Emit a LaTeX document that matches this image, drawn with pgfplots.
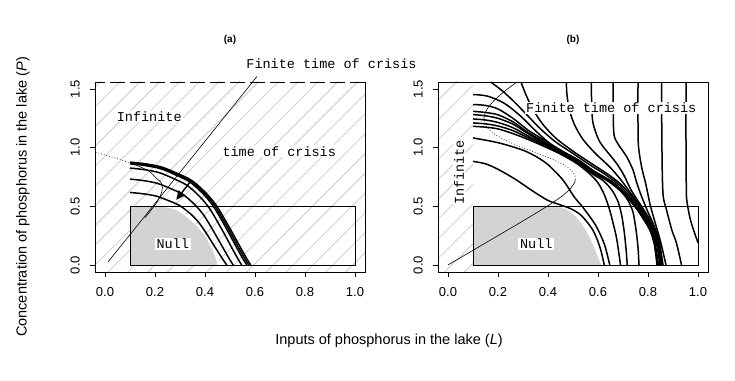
\documentclass[border=0pt]{standalone}
\usepackage{fontspec}
\setmainfont{Liberation Sans}
\newfontfamily\monof{Liberation Mono}
\usepackage{pgfplots}
\pgfplotsset{compat=1.18}
\usetikzlibrary{patterns.meta,arrows.meta}
\definecolor{nullgray}{RGB}{211,211,211}
\definecolor{hatchc}{RGB}{192,192,192}
\pgfplotsset{
  lakeax/.style={
    width=270pt,height=190pt,scale only axis,
    xmin=-0.04,xmax=1.04,ymin=-0.06,ymax=1.56,
    xtick={0,0.2,0.4,0.6,0.8,1}, ytick={0,0.5,1,1.5},
    xtick pos=left, ytick pos=left,
    tick align=outside, major tick length=5pt,
    tick style={black,line width=0.6pt},
    axis line style={line width=0.8pt},
    axis on top,
    /pgf/number format/assume math mode=true,
    /pgf/number format/fixed,
    /pgf/number format/fixed zerofill,
    /pgf/number format/precision=1,
    ticklabel style={font=\fontsize{13}{13}\selectfont},
    yticklabel style={rotate=90,anchor=south},
    xticklabel shift=6pt, yticklabel shift=6pt,
  },
  crv/.style={black,line width=1.5pt,smooth,forget plot},
  thinl/.style={black,line width=0.6pt,forget plot},
}
\begin{document}
\fontsize{12}{14}\selectfont
\begin{tikzpicture}
\path[use as bounding box] (0,0) rectangle (735pt,380pt);
% ---------------- panel (a)
\begin{axis}[lakeax, name=pa, at={(95pt,108pt)}, anchor=south west, clip=false]
\addplot[draw=none, pattern={Lines[angle=45,distance=14pt,line width=0.6pt]}, pattern color=hatchc, forget plot]
  coordinates {(-0.04,-0.06) (1.04,-0.06) (1.04,1.56) (-0.04,1.56)} -- cycle;
\addplot[fill=nullgray, draw=none, forget plot] coordinates {
 (0.1,0) (0.1,0.5) (0.22,0.5) (0.26,0.49) (0.30,0.455) (0.34,0.39) (0.37,0.33) (0.40,0.255) (0.42,0.18) (0.44,0.09) (0.453,0)} -- cycle;
\addplot[white,line width=1pt,smooth,forget plot] coordinates {
 (0.22,0.5) (0.26,0.49) (0.30,0.455) (0.34,0.39) (0.37,0.33) (0.40,0.255) (0.42,0.18) (0.44,0.09) (0.453,0)};
% equilibrium curve
\addplot[thinl,smooth] coordinates {(0.1593,0.4) (0.1961,0.5) (0.2117,0.55) (0.2235,0.6) (0.2291,0.65) (0.2255,0.7) (0.1999,0.75) (0.1763,0.8) (0.1258,0.85)};
\addplot[thinl,smooth,dash pattern=on 0.8pt off 2pt] coordinates {(0.1258,0.85) (0.059,0.9) (-0.0188,0.95) (-0.04,0.963)};
% pointer line
\addplot[thinl] coordinates {(0.013,0.028) (0.608,1.607)};
% isochrones
\addplot[crv] coordinates {(0.1,0.618) (0.148,0.608) (0.203,0.588) (0.256,0.547) (0.299,0.506) (0.342,0.436) (0.374,0.365) (0.401,0.284) (0.428,0.193) (0.455,0.102) (0.477,0.030) (0.487,0)};
\addplot[crv] coordinates {(0.1,0.732) (0.1516,0.720) (0.2094,0.696) (0.266,0.648) (0.3127,0.600) (0.3581,0.516) (0.3924,0.432) (0.4209,0.336) (0.4502,0.228) (0.4787,0.121) (0.5018,0.036) (0.513,0)};
\addplot[crv] coordinates {(0.1,0.826) (0.1559,0.813) (0.2185,0.786) (0.2797,0.731) (0.3302,0.676) (0.3794,0.582) (0.4165,0.487) (0.4473,0.379) (0.4791,0.258) (0.5099,0.136) (0.5349,0.040) (0.547,0)};
\addplot[crv] coordinates {(0.1,0.862) (0.1584,0.848) (0.2238,0.820) (0.2877,0.763) (0.3405,0.706) (0.3919,0.608) (0.4306,0.509) (0.4629,0.396) (0.496,0.269) (0.5282,0.142) (0.5544,0.042) (0.567,0)};
\addplot[crv] coordinates {(0.1,0.869) (0.1594,0.855) (0.2259,0.826) (0.291,0.769) (0.3446,0.712) (0.3969,0.613) (0.4363,0.513) (0.4691,0.399) (0.5028,0.271) (0.5356,0.143) (0.5622,0.043) (0.575,0)};
\addplot[crv] coordinates {(0.1,0.877) (0.1604,0.863) (0.228,0.834) (0.2942,0.776) (0.3487,0.718) (0.4019,0.618) (0.442,0.517) (0.4753,0.403) (0.5096,0.274) (0.5429,0.145) (0.57,0.043) (0.583,0)};
% arrow
\addplot[black,line width=1.4pt,-{Triangle[length=9pt,width=8pt]},forget plot] coordinates {(0.345,0.72) (0.285,0.555)};
% rectangle
\addplot[black,line width=0.8pt,forget plot] coordinates {(0.1,0) (1,0) (1,0.5) (0.1,0.5)} -- cycle;
\node[fill=white,inner xsep=2pt,inner ysep=1pt,font=\monof\fontsize{13.5}{13.5}\selectfont] at (axis cs:0.271,0.18) {Null};
\node[fill=white,inner sep=1pt,font=\monof\fontsize{13.5}{13.5}\selectfont] at (axis cs:0.177,1.268) {Infinite};
\node[fill=white,inner sep=1pt,font=\monof\fontsize{13.5}{13.5}\selectfont] at (axis cs:0.697,0.968) {time of crisis};
\node[font=\monof\fontsize{13.5}{13.5}\selectfont] at (axis cs:0.906,1.72) {Finite time of crisis};
\end{axis}
\draw[white,line width=1.4pt,dash pattern=on 5pt off 15pt,dash phase=-10pt] (pa.north west) -- (pa.north east);
% ---------------- panel (b)
\begin{axis}[lakeax, name=pb, at={(438pt,108pt)}, anchor=south west]
\addplot[draw=none, pattern={Lines[angle=45,distance=14pt,line width=0.6pt]}, pattern color=hatchc, forget plot]
  coordinates {(-0.04,-0.06) (0.1,-0.06) (0.1,1.56) (-0.04,1.56)} -- cycle;
\addplot[fill=nullgray, draw=none, forget plot] coordinates {
 (0.1,0) (0.1,0.5) (0.43,0.5) (0.46,0.49) (0.49,0.46) (0.513,0.413) (0.535,0.36) (0.553,0.299) (0.57,0.23) (0.586,0.156) (0.60,0.08) (0.615,0)} -- cycle;
\addplot[white,line width=1pt,smooth,forget plot] coordinates {
 (0.43,0.5) (0.46,0.49) (0.49,0.46) (0.513,0.413) (0.535,0.36) (0.553,0.299) (0.57,0.23) (0.586,0.156) (0.60,0.08) (0.615,0)};
% equilibrium curve
\addplot[thinl,smooth] coordinates {(0,0) (0.08,0.1) (0.16,0.2) (0.24,0.3) (0.3193,0.4) (0.3961,0.5) (0.4317,0.55) (0.4635,0.6) (0.4891,0.65) (0.5055,0.7) (0.5093,0.73)};
\addplot[thinl,smooth,dash pattern=on 0.8pt off 2pt] coordinates {(0.5093,0.73) (0.5079,0.76) (0.4963,0.8) (0.4658,0.85) (0.419,0.9) (0.3612,0.95) (0.3,1.0) (0.2436,1.05) (0.1981,1.1) (0.1664,1.15) (0.1487,1.2) (0.1437,1.25)};
\addplot[thinl,smooth] coordinates {(0.1437,1.25) (0.1492,1.3) (0.1631,1.35) (0.1835,1.4) (0.2087,1.45) (0.2376,1.5) (0.2758,1.56)};
% curves from the left edge
\addplot[crv] coordinates {(0.1,0.883) (0.151,0.862) (0.205,0.81) (0.272,0.727) (0.339,0.63) (0.40,0.55) (0.446,0.515) (0.49,0.48) (0.526,0.435) (0.555,0.37) (0.58,0.295) (0.598,0.21) (0.612,0.12) (0.625,0)};
\addplot[crv] coordinates {(0.1,1.083) (0.205,1.04) (0.312,0.968) (0.392,0.869) (0.459,0.726) (0.505,0.58) (0.54,0.49) (0.59,0.34) (0.625,0.18) (0.647,0)};
\addplot[crv] coordinates {(0.1,1.182) (0.15,1.175) (0.2,1.16) (0.26,1.12) (0.32,1.07) (0.38,1.015) (0.45,0.945) (0.515,0.865) (0.565,0.78) (0.60,0.70) (0.625,0.60) (0.645,0.48) (0.66,0.36) (0.675,0.22) (0.69,0)};
\addplot[crv] coordinates {(0.1,1.211) (0.15,1.203) (0.2,1.185) (0.26,1.145) (0.32,1.085) (0.38,1.025) (0.45,0.95) (0.52,0.87) (0.575,0.78) (0.62,0.72) (0.655,0.64) (0.68,0.54) (0.695,0.42) (0.705,0.28) (0.712,0.14) (0.717,0)};
\addplot[crv] coordinates {(0.1,1.245) (0.15,1.236) (0.2,1.215) (0.26,1.17) (0.32,1.10) (0.38,1.035) (0.45,0.955) (0.52,0.875) (0.58,0.785) (0.64,0.715) (0.69,0.63) (0.72,0.55) (0.74,0.45) (0.752,0.30) (0.76,0.15) (0.764,0)};
\addplot[crv] coordinates {(0.1,1.282) (0.15,1.272) (0.2,1.25) (0.26,1.20) (0.32,1.12) (0.38,1.045) (0.45,0.965) (0.52,0.88) (0.582,0.788) (0.66,0.70) (0.714,0.584) (0.754,0.48) (0.785,0.38) (0.807,0.3) (0.825,0.18) (0.836,0)};
\addplot[crv] coordinates {(0.1,1.31) (0.15,1.3) (0.2,1.28) (0.26,1.22) (0.32,1.13) (0.38,1.055) (0.45,0.97) (0.52,0.885) (0.583,0.79) (0.66,0.70) (0.714,0.585) (0.755,0.48) (0.786,0.38) (0.808,0.3) (0.826,0.18) (0.838,0)};
\addplot[crv] coordinates {(0.1,1.368) (0.15,1.36) (0.2,1.33) (0.26,1.25) (0.32,1.15) (0.38,1.07) (0.45,0.98) (0.52,0.89) (0.584,0.795) (0.66,0.70) (0.715,0.586) (0.756,0.48) (0.787,0.38) (0.809,0.3) (0.827,0.18) (0.84,0)};
\addplot[crv] coordinates {(0.1,1.453) (0.157,1.44) (0.224,1.38) (0.29,1.27) (0.357,1.13) (0.424,1.01) (0.518,0.90) (0.585,0.80) (0.66,0.705) (0.716,0.59) (0.757,0.48) (0.788,0.38) (0.81,0.3) (0.828,0.18) (0.842,0)};
% curves from the top edge
\addplot[crv] coordinates {(0.171,1.56) (0.22,1.48) (0.27,1.38) (0.32,1.27) (0.37,1.16) (0.43,1.05) (0.50,0.95) (0.57,0.85) (0.63,0.77) (0.68,0.69) (0.72,0.60) (0.76,0.49) (0.79,0.39) (0.815,0.29) (0.835,0.17) (0.848,0)};
\addplot[crv] coordinates {(0.292,1.56) (0.312,1.45) (0.339,1.33) (0.379,1.2) (0.432,1.08) (0.50,0.97) (0.57,0.87) (0.635,0.78) (0.685,0.70) (0.725,0.61) (0.763,0.50) (0.792,0.40) (0.818,0.30) (0.838,0.18) (0.85,0)};
\addplot[crv] coordinates {(0.473,1.56) (0.476,1.45) (0.485,1.33) (0.505,1.2) (0.54,1.07) (0.59,0.95) (0.645,0.84) (0.69,0.73) (0.728,0.62) (0.766,0.51) (0.795,0.41) (0.82,0.31) (0.84,0.18) (0.852,0)};
\addplot[crv] coordinates {(0.573,1.56) (0.575,1.35) (0.58,1.21) (0.60,1.08) (0.62,1.01) (0.673,0.87) (0.705,0.76) (0.732,0.64) (0.768,0.52) (0.798,0.42) (0.823,0.32) (0.843,0.19) (0.855,0)};
\addplot[crv] coordinates {(0.66,1.56) (0.661,1.3) (0.665,1.1) (0.69,1.0) (0.714,0.926) (0.74,0.81) (0.755,0.70) (0.775,0.58) (0.80,0.45) (0.825,0.33) (0.845,0.2) (0.86,0)};
\addplot[crv] coordinates {(0.76,1.56) (0.76,1.2) (0.762,1.01) (0.774,0.84) (0.79,0.70) (0.80,0.6) (0.81,0.5) (0.83,0.35) (0.85,0.2) (0.872,0)};
\addplot[crv] coordinates {(0.854,1.56) (0.855,1.2) (0.857,0.8) (0.861,0.584) (0.874,0.47) (0.895,0.3) (0.914,0.185) (0.934,0)};
\addplot[crv] coordinates {(0.952,1.56) (0.952,1.0) (0.953,0.7) (0.955,0.555) (0.968,0.4) (0.985,0.28) (1.0,0.19)};
% rectangle
\addplot[black,line width=0.8pt,forget plot] coordinates {(0.1,0) (1,0) (1,0.5) (0.1,0.5)} -- cycle;
\node[fill=white,inner xsep=2pt,inner ysep=1pt,font=\monof\fontsize{13.5}{13.5}\selectfont] at (axis cs:0.353,0.18) {Null};
\node[fill=white,inner sep=1pt,font=\monof\fontsize{13.5}{13.5}\selectfont] at (axis cs:0.653,1.339) {Finite time of crisis};
\node[fill=white,inner sep=1pt,rotate=90,font=\monof\fontsize{13.5}{13.5}\selectfont] at (axis cs:0.044,0.79) {Infinite};
\end{axis}
% titles and axis labels
\node[font=\bfseries\fontsize{10}{10}\selectfont] at (230pt,340pt) {(a)};
\node[font=\bfseries\fontsize{10}{10}\selectfont] at (573pt,340pt) {(b)};
\node[rotate=90,font=\fontsize{14.5}{14.5}\selectfont] at (23pt,183pt) {Concentration of phosphorus in the lake (\textit{P})};
\node[font=\fontsize{14.5}{14.5}\selectfont] at (389pt,39pt) {Inputs of phosphorus in the lake (\textit{L})};
\end{tikzpicture}
\end{document}
